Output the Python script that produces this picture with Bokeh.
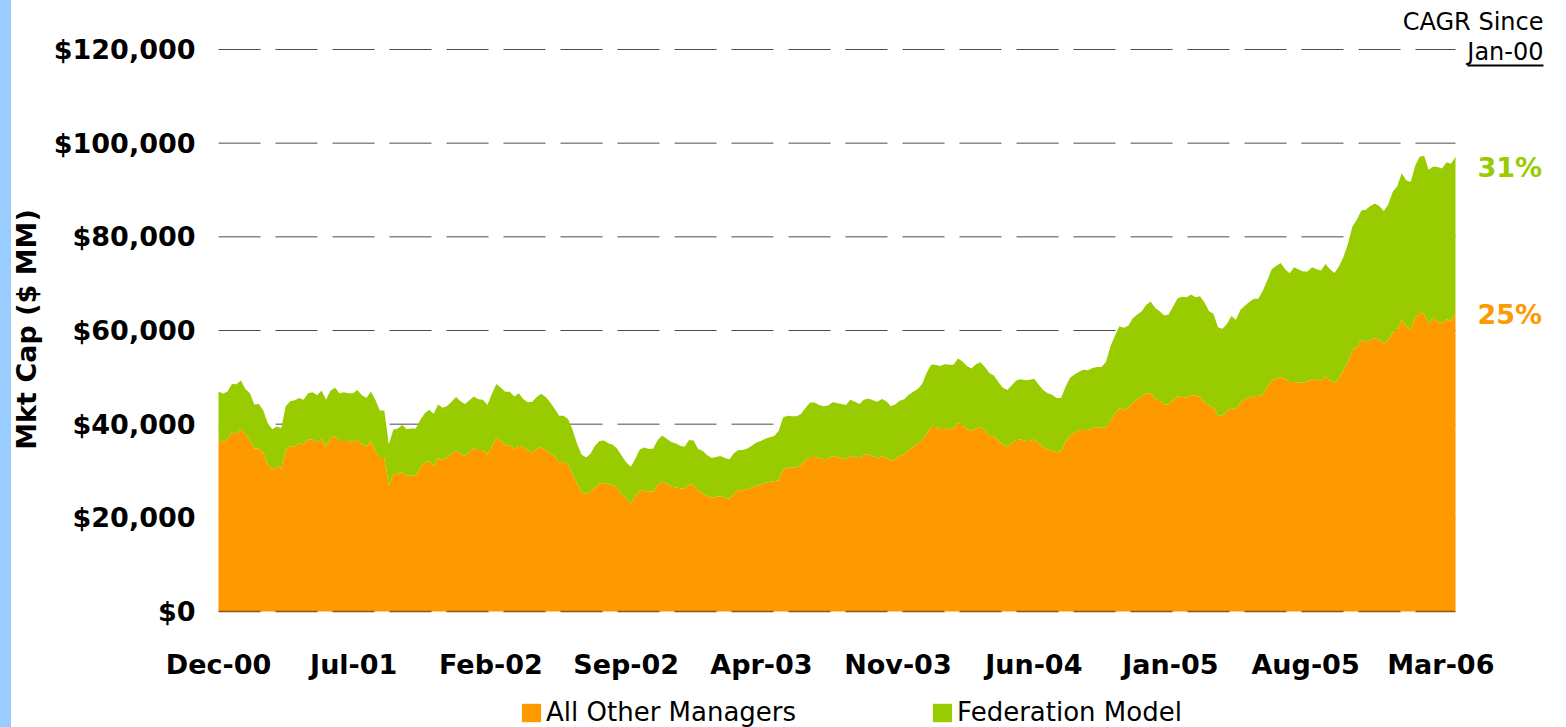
import numpy as np
import pandas as pd
from bokeh.plotting import figure
from bokeh.models import ColumnDataSource, Range1d, Legend, LegendItem, Arrow
from bokeh.core.properties import value
from bokeh.embed import file_html
from bokeh.resources import INLINE

# ---------------- data ($ thousands of MM, weekly) ----------------
START_DATE = "2000-12-01"
END_DATE = "2006-03-24"

total_k = [
    47.0, 46.5, 47.0, 48.6, 48.5, 49.3, 47.5, 46.6, 44.2, 44.3, 42.9, 40.2, 38.9, 39.5, 39.2, 43.8, 44.9,
    45.1, 45.6, 45.2, 46.6, 46.8, 46.2, 47.2, 45.2, 47.2, 47.8, 46.6, 46.8, 46.6, 46.6, 47.3, 46.2, 45.6,
    47.0, 45.2, 42.9, 42.9, 35.7, 38.8, 39.1, 39.8, 38.9, 39.1, 39.1, 40.9, 42.3, 43.1, 42.2, 44.2, 43.5,
    43.9, 44.8, 45.8, 44.9, 44.3, 45.1, 45.9, 45.3, 45.2, 44.1, 46.5, 48.6, 47.8, 46.9, 46.9, 45.9, 46.6,
    45.4, 44.7, 44.8, 45.8, 46.5, 45.8, 44.7, 43.3, 41.8, 41.8, 41.1, 38.8, 35.8, 33.5, 32.9, 33.7, 35.4,
    36.4, 36.5, 35.9, 35.6, 34.7, 33.2, 31.8, 30.9, 32.6, 34.6, 35.0, 34.7, 34.8, 36.6, 37.6, 36.9, 36.2,
    35.9, 35.4, 35.2, 36.6, 36.5, 34.7, 34.3, 33.4, 32.8, 33.0, 33.2, 32.8, 32.5, 33.8, 34.5, 34.5, 34.8,
    35.4, 36.1, 36.4, 36.9, 37.2, 37.5, 38.6, 41.5, 41.8, 41.7, 41.7, 42.2, 43.5, 44.6, 44.6, 44.1,
    43.8, 44.0, 44.7, 44.5, 44.3, 44.1, 45.2, 44.8, 44.3, 45.2, 45.5, 45.1, 44.8, 45.4, 44.9, 43.8, 44.2,
    45.0, 45.3, 46.3, 46.9, 47.5, 48.6, 51.0, 52.7, 52.7, 52.4, 52.8, 52.7, 52.7, 54.0, 53.4, 52.4, 51.9,
    52.8, 53.2, 52.2, 50.9, 50.4, 49.0, 47.8, 47.3, 48.3, 49.3, 49.6, 49.4, 49.5, 49.7, 48.4, 47.3, 46.6,
    46.3, 45.6, 45.6, 48.0, 49.9, 50.6, 51.2, 51.6, 51.5, 52.0, 52.2, 52.2, 53.3, 56.6, 58.9, 60.9,
    60.6, 61.0, 62.6, 63.4, 64.1, 65.5, 66.2, 64.8, 64.1, 63.2, 63.4, 65.1, 66.9, 67.2, 67.1, 67.7, 67.1,
    67.3, 66.0, 64.1, 63.6, 60.7, 60.4, 61.4, 63.1, 62.3, 64.4, 65.3, 66.1, 66.8, 66.8, 68.5, 70.7, 73.1,
    73.8, 74.4, 73.1, 72.2, 73.5, 73.0, 72.6, 72.6, 73.5, 73.1, 72.8, 74.2, 73.1, 72.3, 73.7, 75.7, 78.5,
    82.2, 83.7, 85.6, 85.8, 86.6, 87.1, 86.6, 85.5, 86.9, 89.6, 90.8, 93.6, 92.1, 91.7, 95.2, 97.1, 97.3,
    94.3, 95.0, 94.9, 94.6, 95.9, 95.6, 97.1,
]

other_managers_k = [
    36.9, 36.2, 36.8, 38.2, 37.9, 38.9, 37.8, 36.5, 34.8, 34.8, 33.9, 31.5, 30.2, 31.1, 30.5, 34.5, 35.4,
    35.2, 35.9, 35.7, 36.8, 36.7, 36.2, 36.9, 35.2, 37.1, 37.4, 36.4, 36.4, 36.4, 36.2, 36.7, 35.7, 35.1,
    36.5, 34.4, 32.8, 32.8, 27.0, 29.3, 29.4, 29.8, 29.0, 29.0, 29.0, 30.7, 31.8, 32.1, 31.1, 32.8, 32.4,
    32.8, 33.7, 34.4, 33.7, 33.2, 34.1, 34.9, 34.5, 34.5, 33.5, 35.2, 37.1, 36.4, 35.5, 35.5, 34.7, 35.4,
    35.2, 34.4, 33.9, 34.7, 35.1, 34.5, 33.8, 33.1, 31.8, 32.0, 31.4, 29.4, 27.3, 25.5, 25.1, 25.6, 26.5,
    27.3, 27.5, 27.1, 27.0, 26.2, 25.0, 24.1, 23.1, 24.6, 25.8, 25.8, 25.6, 25.6, 27.0, 27.8, 27.3, 26.7,
    26.5, 26.3, 26.2, 27.1, 27.0, 25.8, 25.2, 24.7, 24.3, 24.5, 24.6, 24.3, 24.1, 25.2, 26.0, 25.9, 26.1,
    26.5, 26.8, 27.1, 27.4, 27.7, 27.8, 28.0, 30.3, 30.7, 30.7, 30.8, 31.3, 32.4, 33.0, 33.0, 32.8,
    32.5, 32.6, 33.2, 33.0, 32.7, 32.5, 33.2, 33.0, 32.7, 33.4, 33.6, 33.1, 32.7, 33.2, 32.8, 32.2, 32.6,
    33.2, 33.5, 34.5, 35.2, 35.8, 36.7, 37.9, 39.4, 39.4, 38.9, 39.0, 38.9, 39.1, 40.2, 39.9, 38.9, 38.6,
    39.1, 39.4, 38.5, 37.5, 37.4, 36.5, 35.6, 35.2, 35.9, 36.6, 36.7, 36.4, 36.4, 36.7, 35.9, 35.1, 34.6,
    34.4, 34.0, 34.2, 36.2, 37.6, 38.2, 38.7, 38.8, 38.7, 39.2, 39.3, 39.2, 39.4, 40.8, 42.2, 43.4,
    43.1, 43.5, 44.5, 45.3, 45.9, 46.6, 46.5, 45.5, 45.1, 44.1, 44.3, 45.1, 45.9, 45.8, 45.7, 46.3, 46.0,
    45.8, 44.6, 44.0, 43.6, 41.8, 41.8, 42.8, 43.5, 43.2, 44.6, 45.3, 45.7, 46.0, 46.0, 46.3, 47.9, 49.4,
    49.8, 50.0, 49.7, 49.0, 49.0, 48.9, 48.9, 49.1, 49.7, 49.5, 49.3, 50.2, 49.4, 48.8, 49.8, 51.5, 53.4,
    55.9, 56.4, 58.0, 57.5, 58.0, 58.3, 58.1, 57.1, 58.0, 59.6, 60.1, 62.4, 60.8, 60.3, 62.7, 63.8, 63.6,
    61.4, 62.7, 61.8, 61.6, 62.4, 62.1, 63.8,
]

series_names = ["All Other Managers", "Federation Model"]
cagr_values = ["25%", "31%"]
cagr_title = "CAGR Since"
cagr_base = "Jan-00"
y_axis_title = "Mkt Cap ($ MM)"

tick_dates = ["2000-12-01", "2001-07-01", "2002-02-01", "2002-09-01", "2003-04-01",
              "2003-11-01", "2004-06-01", "2005-01-01", "2005-08-01", "2006-03-01"]
tick_labels = ["Dec-00", "Jul-01", "Feb-02", "Sep-02", "Apr-03",
               "Nov-03", "Jun-04", "Jan-05", "Aug-05", "Mar-06"]
y_ticks = [0, 20000, 40000, 60000, 80000, 100000, 120000]
Y_MAX = 120000

ORANGE = "#FF9900"
GREEN = "#99CC00"
GRID = "#4d4d4d"
FONT = "DejaVu Sans"

# ---------------- geometry (pixels) ----------------
W, H = 1566, 727
LEFT, DATA_RIGHT, TOP_TICK, BOTTOM = 218, 1455, 49, 611

# ---------------- build ----------------
dates = pd.date_range(START_DATE, END_DATE, periods=len(total_k))
other = np.array(other_managers_k) * 1000.0
total = np.array(total_k) * 1000.0
fed = total - other
src = ColumnDataSource(dict(date=dates, other=other, fed=fed))

x0 = dates[0].value / 1e6
x1 = dates[-1].value / 1e6
ms_per_px = (x1 - x0) / (DATA_RIGHT - LEFT)
val_per_px = Y_MAX / (BOTTOM - TOP_TICK)

p = figure(width=W, height=H, x_axis_location=None, y_axis_location=None,
           output_backend="svg", toolbar_location=None,
           x_range=Range1d(x0 - LEFT * ms_per_px, x1 + (W - DATA_RIGHT) * ms_per_px),
           y_range=Range1d(-(H - BOTTOM) * val_per_px, BOTTOM * val_per_px),
           min_border=0)
p.border_fill_color = None
p.background_fill_color = None
p.outline_line_color = None
p.xgrid.visible = False
p.ygrid.visible = False

# dashed gridlines spanning the data period only (behind the areas)
n_grid = len(y_ticks) - 1
grid_src = ColumnDataSource(dict(x0=[dates[0]] * n_grid, x1=[dates[-1]] * n_grid, y=y_ticks[1:]))
p.segment(x0="x0", y0="y", x1="x1", y1="y", source=grid_src,
          line_color=GRID, line_width=1, line_dash="42 15")

rs = p.varea_stack(["other", "fed"], x="date", source=src, color=[ORANGE, GREEN])

# zero line drawn over the area
p.segment(x0=[dates[0]], y0=[y_ticks[0]], x1=[dates[-1]], y1=[y_ticks[0]],
          line_color="#8a5a10", line_width=1.5, line_dash="42 15")

# y tick labels
ytick_src = ColumnDataSource(dict(x=[x0] * len(y_ticks), y=y_ticks,
                                  text=["${:,}".format(v) for v in y_ticks]))
p.text(x="x", y="y", text="text", source=ytick_src, x_offset=-23,
       text_align="right", text_baseline="middle",
       text_font=value(FONT), text_font_size=value("27px"), text_font_style="bold",
       text_color="black")

# y axis title (rotated)
p.text(x=[x0], y=[(BOTTOM - 329) * val_per_px], text=[y_axis_title], x_offset=-192.5,
       angle=np.pi / 2, text_align="center", text_baseline="middle",
       text_font=value(FONT), text_font_size=value("27px"), text_font_style="bold",
       text_color="black")

# x tick labels under the baseline
tick_ms = [pd.Timestamp(d).value / 1e6 for d in tick_dates]
tick_src = ColumnDataSource(dict(x=tick_ms, y=[y_ticks[0]] * len(tick_ms), text=tick_labels))
p.text(x="x", y="y", text="text", source=tick_src, y_offset=53,
       text_align="center", text_baseline="alphabetic",
       text_font=value(FONT), text_font_size=value("27px"), text_font_style="bold",
       text_color="black")

# CAGR labels at the series ends
end_src = ColumnDataSource(dict(x=[x1, x1], y=[other[-1], total[-1]], text=cagr_values,
                                color=[ORANGE, GREEN], dy=[2, 11]))
p.text(x="x", y="y", text="text", source=end_src, x_offset=22, y_offset="dy",
       text_color="color", text_align="left", text_baseline="middle",
       text_font=value(FONT), text_font_size=value("27px"), text_font_style="bold")

hdr_src = ColumnDataSource(dict(x=[x1, x1], y=[(BOTTOM - 21) * val_per_px, (BOTTOM - 51) * val_per_px],
                                text=[cagr_title, cagr_base]))
p.text(x="x", y="y", text="text", source=hdr_src, x_offset=88,
       text_color="black", text_align="right", text_baseline="middle",
       text_font=value(FONT), text_font_size=value("24px"))
p.add_layout(Arrow(start=None, end=None,
                   x_start=x1 + 12 * ms_per_px, x_end=x1 + 88 * ms_per_px,
                   y_start=(BOTTOM - 65) * val_per_px, y_end=(BOTTOM - 65) * val_per_px,
                   line_color="black", line_width=2))

# legend at the bottom
legend = Legend(items=[LegendItem(label=series_names[0], renderers=[rs[0]]),
                       LegendItem(label=series_names[1], renderers=[rs[1]])],
                orientation="horizontal", location=(519, 0),
                border_line_color=None, background_fill_alpha=0,
                padding=0, margin=0, spacing=134,
                glyph_width=24, glyph_height=23, label_standoff=3,
                label_text_font=FONT, label_text_font_size="26px",
                label_text_color="black")
p.add_layout(legend)

html = file_html(p, INLINE, title="Mkt Cap")
html = html.replace("</head>",
                    "<style>html,body{background:linear-gradient(90deg,#99ccff 0,#99ccff 11px,#ffffff 11px);}</style></head>", 1)
open("out.html", "w").write(html)
